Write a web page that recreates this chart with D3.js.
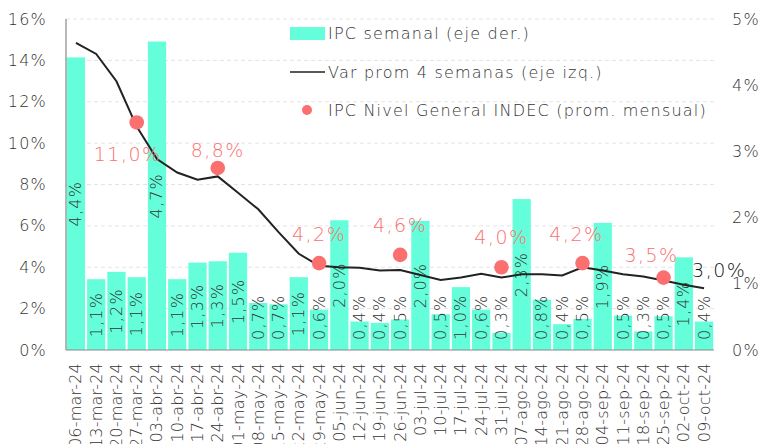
<!DOCTYPE html>
<html>
<head>
<meta charset="utf-8">
<script src="https://cdn.jsdelivr.net/npm/d3@7"></script>
<style>
  body { margin: 0; background: #fff; }
  text { font-family: "DejaVu Sans", sans-serif; font-weight: 300; letter-spacing: 1.2px; }
</style>
</head>
<body>
<div id="chart"></div>
<script>
const width = 762;
const height = 444;

// data
const weeks = ["06-mar-24","13-mar-24","20-mar-24","27-mar-24","03-abr-24","10-abr-24","17-abr-24","24-abr-24",
  "01-may-24","08-may-24","15-may-24","22-may-24","29-may-24","05-jun-24","12-jun-24","19-jun-24","26-jun-24",
  "03-jul-24","10-jul-24","17-jul-24","24-jul-24","31-jul-24","07-ago-24","14-ago-24","21-ago-24","28-ago-24",
  "04-sep-24","11-sep-24","18-sep-24","25-sep-24","02-oct-24","09-oct-24"];
// IPC semanal (right axis, %)
const weekly = [4.42,1.07,1.18,1.10,4.66,1.07,1.32,1.34,1.47,0.71,0.69,1.10,0.61,1.96,0.43,0.41,0.46,
  1.95,0.54,0.95,0.61,0.26,2.28,0.76,0.39,0.47,1.92,0.52,0.28,0.51,1.40,0.43];
const weeklyLabels = ["4,4%","1,1%","1,2%","1,1%","4,7%","1,1%","1,3%","1,3%","1,5%","0,7%","0,7%","1,1%","0,6%","2,0%",
  "0,4%","0,4%","0,5%","2,0%","0,5%","1,0%","0,6%","0,3%","2,3%","0,8%","0,4%","0,5%","1,9%","0,5%","0,3%","0,5%","1,4%","0,4%"];
// Var prom 4 semanas (left axis, %)
const avg4 = [14.85,14.31,12.99,10.8,9.23,8.58,8.23,8.39,7.6,6.8,5.7,4.65,4.07,4.0,3.97,3.84,3.87,
  3.63,3.39,3.5,3.69,3.5,3.66,3.66,3.6,4.0,3.84,3.66,3.55,3.36,3.15,2.99];
// IPC Nivel General INDEC (monthly average, left axis)
const indecWeeks = ["27-mar-24","24-abr-24","29-may-24","26-jun-24","31-jul-24","28-ago-24","25-sep-24"];
const indecValues = [11.0,8.8,4.2,4.6,4.0,4.2,3.5];
const indecLabels = ["11,0%","8,8%","4,2%","4,6%","4,0%","4,2%","3,5%"];

const leftTicks = [0,2,4,6,8,10,12,14,16];
const rightTicks = [0,1,2,3,4,5];

const margin = {left: 66, right: 48, top: 19, bottom: 94};
const x0 = margin.left, x1 = width - margin.right, y0 = height - margin.bottom, y1 = margin.top;

const svg = d3.select("#chart").append("svg")
  .attr("width", width)
  .attr("height", height);

const x = d3.scaleBand()
  .domain(weeks)
  .range([x0, x1])
  .paddingInner(0.1)
  .paddingOuter(0.04);

const yL = d3.scaleLinear().domain([0, 16]).range([y0, y1]);
const yR = d3.scaleLinear().domain([0, 5]).range([y0, y1]);

const red = "#fb6f6f";
const teal = "#64ffda";
const fontSize = "16px";

// gridlines
svg.append("g")
  .selectAll("line")
  .data(leftTicks.filter(d => d > 0))
  .enter()
  .append("line")
  .attr("x1", x0)
  .attr("x2", x1)
  .attr("y1", d => yL(d))
  .attr("y2", d => yL(d))
  .attr("stroke", "#e4e4e4")
  .attr("stroke-dasharray", "4,3");

// bars
svg.selectAll(".bar")
  .data(weekly)
  .enter()
  .append("rect")
  .attr("class", "bar")
  .attr("x", (d, i) => x(weeks[i]))
  .attr("y", d => yR(d))
  .attr("width", x.bandwidth())
  .attr("height", d => y0 - yR(d))
  .attr("fill", teal);

// bar labels (rotated, centred in bar but kept above the axis)
const barLabels = svg.append("g");
weekly.forEach((d, i) => {
  const cx = x(weeks[i]) + x.bandwidth() / 2;
  const t = barLabels.append("text")
    .attr("text-anchor", "middle")
    .attr("dominant-baseline", "central")
    .style("font-size", fontSize)
    .attr("fill", "#333")
    .text(weeklyLabels[i]);
  const half = t.node().getComputedTextLength() / 2;
  const cy = Math.min((yR(d) + y0) / 2, y0 - 10 - half);
  t.attr("transform", `translate(${cx},${cy}) rotate(-90)`);
});

// axes lines
svg.append("line")
  .attr("x1", x0).attr("x2", x0)
  .attr("y1", y1).attr("y2", y0)
  .attr("stroke", "#888").attr("stroke-width", 1.2);
svg.append("line")
  .attr("x1", x0).attr("x2", x1)
  .attr("y1", y0).attr("y2", y0)
  .attr("stroke", "#888").attr("stroke-width", 1.2);

// left tick labels
svg.append("g")
  .selectAll("text")
  .data(leftTicks)
  .enter()
  .append("text")
  .attr("x", 47)
  .attr("y", d => yL(d))
  .attr("dy", "0.35em")
  .attr("text-anchor", "end")
  .style("font-size", fontSize)
  .attr("fill", "#333")
  .text(d => d + "%");

// right tick labels
svg.append("g")
  .selectAll("text")
  .data(rightTicks)
  .enter()
  .append("text")
  .attr("x", 732)
  .attr("y", d => yR(d))
  .attr("dy", "0.35em")
  .style("font-size", fontSize)
  .attr("fill", "#333")
  .text(d => d + "%");

// x labels
svg.append("g")
  .selectAll("text")
  .data(weeks)
  .enter()
  .append("text")
  .attr("transform", d => `translate(${x(d) + x.bandwidth() / 2},${y0 + 13}) rotate(-90)`)
  .attr("text-anchor", "end")
  .attr("dominant-baseline", "central")
  .style("font-size", fontSize)
  .style("letter-spacing", "0.2px")
  .attr("fill", "#333")
  .text(d => d);

// 4-week average line
const line = d3.line()
  .x((d, i) => x(weeks[i]) + x.bandwidth() / 2)
  .y(d => yL(d));

svg.append("path")
  .datum(avg4)
  .attr("d", line)
  .attr("fill", "none")
  .attr("stroke", "#222")
  .attr("stroke-width", 2);

svg.append("text")
  .attr("x", x(weeks[weeks.length - 1]) + x.bandwidth() / 2 - 12)
  .attr("y", yL(avg4[avg4.length - 1]) - 11)
  .style("font-size", "19px")
  .style("letter-spacing", "1.5px")
  .attr("fill", "#111")
  .text("3,0%");

// INDEC dots
svg.selectAll(".dot")
  .data(indecValues)
  .enter()
  .append("circle")
  .attr("class", "dot")
  .attr("cx", (d, i) => x(indecWeeks[i]) + x.bandwidth() / 2)
  .attr("cy", d => yL(d))
  .attr("r", 7.3)
  .attr("fill", red);

// dot labels: offsets [dx, baseline dy] relative to dot
const labelOffsets = [[-9, 39], [0, -11], [0, -22], [0, -23], [0, -23], [-6, -22], [-12, -16]];
svg.selectAll(".dotlabel")
  .data(indecValues)
  .enter()
  .append("text")
  .attr("class", "dotlabel")
  .attr("x", (d, i) => x(indecWeeks[i]) + x.bandwidth() / 2 + labelOffsets[i][0])
  .attr("y", (d, i) => yL(d) + labelOffsets[i][1])
  .attr("text-anchor", "middle")
  .style("font-size", "19px")
  .style("letter-spacing", "1.5px")
  .attr("fill", red)
  .text((d, i) => indecLabels[i]);

// legend
const legend = svg.append("g");
legend.append("rect")
  .attr("x", 290).attr("y", 27)
  .attr("width", 35).attr("height", 13)
  .attr("fill", teal);
legend.append("line")
  .attr("x1", 290).attr("x2", 325)
  .attr("y1", 72).attr("y2", 72)
  .attr("stroke", "#222").attr("stroke-width", 1.5);
legend.append("circle")
  .attr("cx", 307).attr("cy", 110)
  .attr("r", 5)
  .attr("fill", red);

const legendText = ["IPC semanal (eje der.)", "Var prom 4 semanas (eje izq.)", "IPC Nivel General INDEC (prom. mensual)"];
legend.selectAll("text")
  .data(legendText)
  .enter()
  .append("text")
  .attr("x", 328)
  .attr("y", (d, i) => 39 + i * 38.5)
  .style("font-size", fontSize)
  .attr("fill", "#333")
  .text(d => d);
</script>
</body>
</html>
